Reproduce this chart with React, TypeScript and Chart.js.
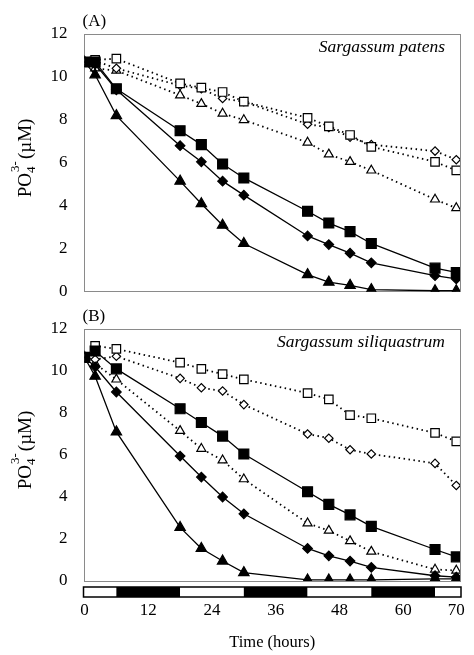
import React, { useEffect, useRef } from 'react';
import { Chart, registerables } from 'chart.js';

Chart.register(...registerables);

// ---------- data ----------
const times = [0, 2, 6, 18, 22, 26, 30, 42, 46, 50, 54, 66, 70];
const xTickValues = [0, 12, 24, 36, 48, 60, 70];
const yTickValues = [0, 2, 4, 6, 8, 10, 12];
const lightDarkEdges = [0, 6, 18, 30, 42, 54, 66, 70.7];
const lightDarkPhases = ['light', 'dark', 'light', 'dark', 'light', 'dark', 'light'];

// (A) Sargassum patens
const patensFilledSquare = [10.7, 10.7, 9.45, 7.5, 6.85, 5.95, 5.3, 3.75, 3.2, 2.8, 2.25, 1.1, 0.9];
const patensFilledDiamond = [10.7, 10.6, 9.4, 6.8, 6.05, 5.15, 4.5, 2.6, 2.2, 1.8, 1.35, 0.75, 0.6];
const patensFilledTriangle = [10.7, 10.1, 8.2, 5.15, 4.1, 3.1, 2.25, 0.8, 0.45, 0.3, 0.1, 0.05, 0.05];
const patensOpenSquare = [10.7, 10.8, 10.85, 9.7, 9.5, 9.3, 8.85, 8.1, 7.7, 7.3, 6.75, 6.05, 5.65];
const patensOpenDiamond = [10.7, 10.75, 10.4, 9.6, 9.45, 9.0, 8.85, 7.8, 7.65, 7.2, 6.85, 6.55, 6.15];
const patensOpenTriangle = [10.7, 10.4, 10.3, 9.15, 8.75, 8.3, 8.0, 6.95, 6.4, 6.05, 5.65, 4.3, 3.9];

// (B) Sargassum siliquastrum
const siliFilledSquare = [10.65, 10.95, 10.1, 8.2, 7.55, 6.9, 6.05, 4.25, 3.65, 3.15, 2.6, 1.5, 1.15];
const siliFilledDiamond = [10.65, 10.2, 9.0, 5.95, 4.95, 4.0, 3.2, 1.55, 1.2, 0.95, 0.65, 0.25, 0.18];
const siliFilledTriangle = [10.65, 9.75, 7.1, 2.55, 1.55, 0.95, 0.4, 0.05, 0.05, 0.05, 0.05, 0.1, 0.1];
const siliOpenSquare = [10.65, 11.2, 11.05, 10.4, 10.1, 9.85, 9.6, 8.95, 8.65, 7.9, 7.75, 7.05, 6.65];
const siliOpenDiamond = [10.65, 10.55, 10.7, 9.65, 9.2, 9.05, 8.4, 7.0, 6.8, 6.25, 6.05, 5.6, 4.55];
const siliOpenTriangle = [10.65, 10.35, 9.6, 7.15, 6.3, 5.75, 4.85, 2.75, 2.4, 1.9, 1.4, 0.55, 0.5];

// ---------- styling ----------
const SERIF = '"Liberation Serif", "DejaVu Serif", "Times New Roman", serif';
const FRAME = { display: true, color: '#8a8a8a', width: 1, dash: [1, 2] };

type Shape = 'square' | 'diamond' | 'triangle';

function makeDataset(values: number[], shape: Shape, filled: boolean) {
  const style = shape === 'square' ? 'rect' : shape === 'diamond' ? 'rectRot' : 'triangle';
  const radius = filled
    ? (shape === 'square' ? 7 : shape === 'diamond' ? 4.8 : 6)
    : (shape === 'square' ? 6 : shape === 'diamond' ? 4.2 : 5.2);
  return {
    data: times.map((t, i) => ({ x: t, y: values[i] })),
    borderColor: '#000',
    borderWidth: filled ? 1.3 : 1.8,
    borderDash: filled ? [] : [1.5, 3.5],
    tension: 0,
    fill: false,
    pointStyle: style,
    pointRadius: radius,
    pointBackgroundColor: filled ? '#000' : '#fff',
    pointBorderColor: '#000',
    pointBorderWidth: 1.2,
    pointHoverRadius: radius,
  };
}

const decorPlugin = {
  id: 'decor',
  afterDraw(chart: any, _args: any, opts: any) {
    const ctx = chart.ctx as CanvasRenderingContext2D;
    const { top, bottom, left, right } = chart.chartArea;
    ctx.save();
    ctx.fillStyle = '#000';
    // panel label
    ctx.font = `17px ${SERIF}`;
    ctx.textAlign = 'left';
    ctx.textBaseline = 'middle';
    ctx.fillText(opts.panel, left - 2, top - 12);
    // species name
    ctx.font = `italic 17.5px ${SERIF}`;
    ctx.textAlign = 'right';
    ctx.fillText(opts.species, right - 15, top + 13);
    // y axis title: PO4 3- (µM)
    const cy = (top + bottom) / 2 - 5;
    ctx.translate(31, cy);
    ctx.rotate(-Math.PI / 2);
    ctx.textAlign = 'left';
    ctx.textBaseline = 'alphabetic';
    const big = `19px ${SERIF}`;
    const small = `13px ${SERIF}`;
    ctx.font = big;
    const wPO = ctx.measureText('PO').width;
    const wMu = ctx.measureText('(µM)').width;
    ctx.font = small;
    const wSup = ctx.measureText('3-').width;
    const total = wPO + wSup + 3 + wMu;
    let x = -total / 2;
    ctx.font = big;
    ctx.fillText('PO', x, 0);
    x += wPO;
    ctx.font = small;
    ctx.fillText('4', x, 4);
    ctx.fillText('3-', x + 1, -12);
    x += wSup + 3;
    ctx.font = big;
    ctx.fillText('(µM)', x, 0);
    ctx.restore();

    if (opts.lightDark) {
      const xs = chart.scales.x;
      const y0 = bottom + 6;
      const h = 10;
      ctx.save();
      for (let i = 0; i < lightDarkPhases.length; i++) {
        const x1 = xs.getPixelForValue(lightDarkEdges[i]);
        const x2 = Math.min(xs.getPixelForValue(lightDarkEdges[i + 1]), right);
        ctx.fillStyle = lightDarkPhases[i] === 'dark' ? '#000' : '#fff';
        ctx.fillRect(x1, y0, x2 - x1, h);
      }
      ctx.strokeStyle = '#000';
      ctx.lineWidth = 1.5;
      ctx.strokeRect(left - 1, y0, right - left + 2, h);
      ctx.fillStyle = '#000';
      ctx.font = `16.5px ${SERIF}`;
      ctx.textAlign = 'center';
      ctx.textBaseline = 'middle';
      ctx.fillText(opts.xTitle, (left + right) / 2, bottom + 62);
      ctx.restore();
    }
  },
};

function makeConfig(panel: 'A' | 'B'): any {
  const isB = panel === 'B';
  const sets = isB
    ? [
        makeDataset(siliFilledSquare, 'square', true),
        makeDataset(siliFilledDiamond, 'diamond', true),
        makeDataset(siliFilledTriangle, 'triangle', true),
        makeDataset(siliOpenSquare, 'square', false),
        makeDataset(siliOpenDiamond, 'diamond', false),
        makeDataset(siliOpenTriangle, 'triangle', false),
      ]
    : [
        makeDataset(patensFilledSquare, 'square', true),
        makeDataset(patensFilledDiamond, 'diamond', true),
        makeDataset(patensFilledTriangle, 'triangle', true),
        makeDataset(patensOpenSquare, 'square', false),
        makeDataset(patensOpenDiamond, 'diamond', false),
        makeDataset(patensOpenTriangle, 'triangle', false),
      ];
  const tickFont = { family: SERIF, size: 17 };
  return {
    type: 'line',
    data: { datasets: sets },
    plugins: [decorPlugin],
    options: {
      animation: false,
      responsive: false,
      maintainAspectRatio: false,
      events: [],
      layout: { padding: { top: isB ? 29 : 34, right: 14, left: 0, bottom: 0 } },
      plugins: {
        legend: { display: false },
        tooltip: { enabled: false },
        decor: {
          panel: isB ? '(B)' : '(A)',
          species: isB ? 'Sargassum siliquastrum' : 'Sargassum patens',
          lightDark: isB,
          xTitle: 'Time (hours)',
        },
      },
      scales: {
        x: {
          type: 'linear',
          position: 'bottom',
          min: 0,
          max: 70.7,
          afterBuildTicks: (s: any) => {
            s.ticks = xTickValues.map((v) => ({ value: v }));
          },
          afterFit: (s: any) => {
            s.height = isB ? 74 : 6;
            s.paddingLeft = 0;
            s.paddingRight = 0;
          },
          ticks: {
            display: isB,
            padding: 19,
            font: tickFont,
            color: '#000',
            maxRotation: 0,
            autoSkip: false,
          },
          grid: { display: false, drawTicks: false },
          border: FRAME,
        },
        xTop: {
          type: 'linear',
          position: 'top',
          min: 0,
          max: 70.7,
          afterFit: (s: any) => {
            s.height = 0;
            s.paddingLeft = 0;
            s.paddingRight = 0;
          },
          ticks: { display: false },
          grid: { display: false, drawTicks: false },
          border: FRAME,
        },
        y: {
          type: 'linear',
          position: 'left',
          min: 0,
          max: 12,
          afterBuildTicks: (s: any) => {
            s.ticks = yTickValues.map((v) => ({ value: v }));
          },
          afterFit: (s: any) => {
            s.width = 84.5;
            s.paddingTop = 0;
            s.paddingBottom = 0;
          },
          ticks: { padding: 17, font: tickFont, color: '#000' },
          grid: { display: false, drawTicks: false },
          border: FRAME,
        },
        yRight: {
          type: 'linear',
          position: 'right',
          min: 0,
          max: 12,
          afterFit: (s: any) => {
            s.width = 0;
            s.paddingTop = 0;
            s.paddingBottom = 0;
          },
          ticks: { display: false },
          grid: { display: false, drawTicks: false },
          border: FRAME,
        },
      },
    },
  };
}

function Panel({ panel, top, height }: { panel: 'A' | 'B'; top: number; height: number }) {
  const ref = useRef<HTMLCanvasElement | null>(null);
  useEffect(() => {
    if (!ref.current) return;
    const chart = new Chart(ref.current, makeConfig(panel));
    return () => chart.destroy();
  }, [panel]);
  return (
    <canvas
      ref={ref}
      width={474}
      height={height}
      style={{ position: 'absolute', left: 0, top, width: 474, height }}
    />
  );
}

export default function App() {
  return (
    <div style={{ position: 'absolute', left: 0, top: 0, width: 474, height: 655, background: '#fff' }}>
      <Panel panel="A" top={0} height={300} />
      <Panel panel="B" top={300} height={355} />
    </div>
  );
}
